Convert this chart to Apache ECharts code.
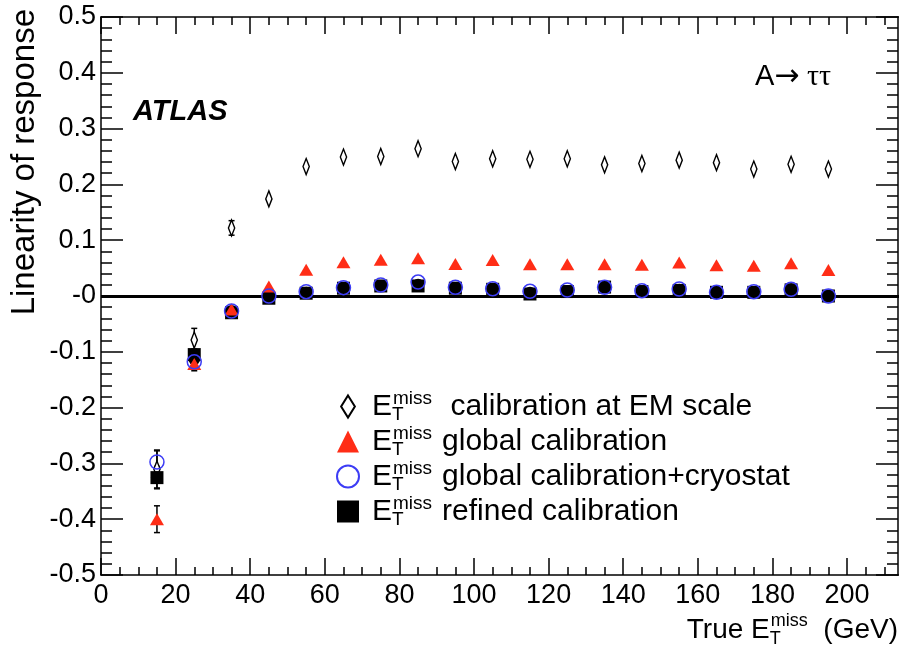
<!DOCTYPE html>
<html>
<head>
<meta charset="utf-8">
<script src="https://cdn.jsdelivr.net/npm/echarts@6/dist/echarts.min.js"></script>
<style>
  html, body { margin: 0; padding: 0; background: #fff; }
  #chart { width: 899px; height: 654px; }
</style>
</head>
<body>
<div id="chart"></div>
<script>
// true missing Et bin centres (GeV)
const trueMet = [15, 25, 35, 45, 55, 65, 75, 85, 95, 105, 115, 125, 135, 145, 155, 165, 175, 185, 195]

// linearity for each calibration
const emScale = [-0.31, -0.079, 0.122, 0.174, 0.232, 0.249, 0.25, 0.264, 0.241, 0.246, 0.245, 0.246, 0.235, 0.2375, 0.2435, 0.239, 0.2275, 0.236, 0.2275]
const globalCal = [-0.4, -0.122, -0.024, 0.017, 0.047, 0.0605, 0.065, 0.0676, 0.0574, 0.0646, 0.057, 0.057, 0.057, 0.056, 0.06, 0.055, 0.054, 0.0586, 0.0467]
const cryostat = [-0.2975, -0.118, -0.027, 0.0, 0.0077, 0.015, 0.0197, 0.025, 0.0156, 0.013, 0.0084, 0.0108, 0.0156, 0.0095, 0.0126, 0.0066, 0.0077, 0.012, 0.0]
const refined = [-0.3255, -0.105, -0.03, -0.004, 0.005, 0.014, 0.018, 0.018, 0.014, 0.012, 0.0036, 0.008, 0.016, 0.008, 0.01, 0.0066, 0.0066, 0.011, 0.0]
// filled black circles drawn under the open blue ones (not in legend)
const refinedDot = [-0.325, -0.113, -0.027, -0.002, 0.006, 0.014, 0.018, 0.02, 0.014, 0.013, 0.006, 0.009, 0.016, 0.008, 0.011, 0.006, 0.007, 0.012, 0.0]

// statistical errors (only the ones that stick out of the markers)
const emErr = [0.034, 0.021, 0.013, 0, 0, 0, 0, 0, 0, 0, 0, 0, 0, 0, 0, 0, 0, 0, 0]
const globalErr = [0.024, 0.012, 0, 0, 0, 0, 0, 0, 0, 0, 0, 0, 0, 0, 0, 0, 0, 0, 0]
const cryostatErr = [0.02, 0.012, 0, 0, 0, 0, 0, 0, 0, 0, 0, 0, 0, 0, 0, 0, 0, 0, 0]
const refinedErr = [0.02, 0.01, 0, 0, 0, 0, 0, 0, 0, 0, 0, 0, 0, 0, 0, 0, 0, 0, 0]

const yTicks = [-0.5, -0.4, -0.3, -0.2, -0.1, 0, 0.1, 0.2, 0.3, 0.4, 0.5]

const legendLabels = {
  em: ' calibration at EM scale',
  global: 'global calibration',
  cryo: 'global calibration+cryostat',
  refined: 'refined calibration'
}

const FONT = '"Liberation Sans", Arial, Helvetica, sans-serif'
const RED = '#ff2d16'
const BLUE = '#3c3cf5'
const DIAMOND = 'path://M5,0 L10,8 L5,16 L0,8 Z'

function pairs(values) {
  return trueMet.map((x, i) => [x, values[i]])
}

function errorData() {
  const out = []
  const sets = [[emScale, emErr], [globalCal, globalErr], [cryostat, cryostatErr], [refined, refinedErr]]
  sets.forEach(s => {
    trueMet.forEach((x, i) => {
      if (s[1][i] > 0) out.push([x, s[0][i], s[1][i]])
    })
  })
  return out
}

function renderErrorBar(params, api) {
  const x = api.value(0)
  const y = api.value(1)
  const e = api.value(2)
  const hi = api.coord([x, y + e])
  const lo = api.coord([x, y - e])
  const style = { stroke: '#000', lineWidth: 1.5 }
  return {
    type: 'group',
    children: [
      { type: 'line', shape: { x1: hi[0], y1: hi[1], x2: lo[0], y2: lo[1] }, style },
      { type: 'line', shape: { x1: hi[0] - 3, y1: hi[1], x2: hi[0] + 3, y2: hi[1] }, style },
      { type: 'line', shape: { x1: lo[0] - 3, y1: lo[1], x2: lo[0] + 3, y2: lo[1] }, style }
    ]
  }
}

const rich = {
  e: { fontFamily: FONT, fontSize: 30, lineHeight: 35, color: '#000', verticalAlign: 'middle', padding: [0, 0, 0, 8] },
  t: { fontFamily: FONT, fontSize: 19, lineHeight: 2, width: 1, color: '#000', verticalAlign: 'bottom' },
  m: { fontFamily: FONT, fontSize: 19, lineHeight: 18, color: '#000', verticalAlign: 'top' },
  l: { fontFamily: FONT, fontSize: 30, lineHeight: 35, color: '#000', verticalAlign: 'middle', padding: [0, 0, 0, 10] }
}

const axisLine = { show: true, onZero: false, lineStyle: { color: '#000', width: 1.5 } }
const tickStyle = { color: '#000', width: 1.5 }

const chart = echarts.init(document.getElementById('chart'), null, { renderer: 'canvas' })
chart.setOption({
  backgroundColor: '#fff',
  animation: false,
  grid: { left: 101, top: 17, width: 802, bottom: 79, containLabel: false, outerBoundsMode: 'none' },
  xAxis: [{
    type: 'value',
    min: 0,
    max: 215,
    interval: 20,
    position: 'bottom',
    axisLine,
    axisTick: { inside: true, length: 17, lineStyle: tickStyle },
    minorTick: { show: true, splitNumber: 4, length: 8, lineStyle: tickStyle },
    splitLine: { show: false },
    axisLabel: {
      color: '#000', fontFamily: FONT, fontSize: 27, margin: 7,
      formatter: v => (v % 20 === 0 ? String(v) : '')
    }
  }, {
    type: 'value',
    min: 0,
    max: 215,
    interval: 20,
    position: 'top',
    axisLine,
    axisTick: { inside: true, length: 17, lineStyle: tickStyle },
    minorTick: { show: true, splitNumber: 4, length: 8, lineStyle: tickStyle },
    splitLine: { show: false },
    axisLabel: { show: false }
  }],
  yAxis: [{
    type: 'value',
    min: yTicks[0],
    max: yTicks[yTicks.length - 1],
    interval: 0.1,
    position: 'left',
    axisLine,
    axisTick: { inside: true, length: 22, lineStyle: tickStyle },
    minorTick: { show: true, splitNumber: 5, length: 11, lineStyle: tickStyle },
    splitLine: { show: false },
    axisLabel: {
      color: '#000', fontFamily: FONT, fontSize: 27, margin: 5,
      formatter: v => {
        const r = Math.round(v * 10) / 10
        return r === 0 ? '-0' : r.toFixed(1)
      }
    }
  }, {
    type: 'value',
    min: yTicks[0],
    max: yTicks[yTicks.length - 1],
    interval: 0.1,
    position: 'right',
    offset: -5,
    axisLine,
    axisTick: { inside: true, length: 22, lineStyle: tickStyle },
    minorTick: { show: true, splitNumber: 5, length: 11, lineStyle: tickStyle },
    splitLine: { show: false },
    axisLabel: { show: false }
  }],
  legend: {
    data: ['em', 'global', 'cryo', 'refined'],
    orient: 'vertical',
    left: 336,
    top: 389,
    itemWidth: 22,
    itemHeight: 22,
    itemGap: 0,
    padding: 0,
    selectedMode: false,
    formatter: name => '{e|E}{t|T}{m|miss}{l|' + legendLabels[name] + '}',
    textStyle: { rich }
  },
  series: [{
    type: 'custom',
    name: 'errors',
    z: 1,
    silent: true,
    renderItem: renderErrorBar,
    data: errorData(),
    markLine: {
      silent: true,
      symbol: 'none',
      label: { show: false },
      lineStyle: { color: '#000', width: 3, type: 'solid' },
      data: [{ yAxis: 0 }]
    }
  }, {
    type: 'scatter',
    name: 'em',
    z: 2,
    symbol: DIAMOND,
    symbolKeepAspect: true,
    symbolSize: [10, 16],
    itemStyle: { color: '#fff', borderColor: '#000', borderWidth: 1.6, opacity: 1 },
    data: pairs(emScale)
  }, {
    type: 'scatter',
    name: 'refined',
    z: 3,
    symbol: 'rect',
    symbolSize: 13,
    itemStyle: { color: '#000', opacity: 1 },
    data: pairs(refined)
  }, {
    type: 'scatter',
    name: 'refinedDot',
    z: 4,
    symbol: 'circle',
    symbolSize: 12,
    itemStyle: { color: '#000', opacity: 1 },
    data: pairs(refinedDot)
  }, {
    type: 'scatter',
    name: 'global',
    z: 5,
    symbol: 'triangle',
    symbolSize: [14, 12],
    itemStyle: { color: RED, opacity: 1 },
    data: pairs(globalCal)
  }, {
    type: 'scatter',
    name: 'cryo',
    z: 6,
    symbol: 'circle',
    symbolSize: 14,
    itemStyle: { color: 'rgba(0,0,0,0)', borderColor: BLUE, borderWidth: 1.5, opacity: 1 },
    data: pairs(cryostat)
  }],
  graphic: [{
    type: 'text',
    x: 25,
    y: 9,
    rotation: Math.PI / 2,
    style: {
      text: 'Linearity of response',
      fontFamily: FONT, fontSize: 33, fill: '#000',
      align: 'right', verticalAlign: 'middle'
    }
  }, {
    type: 'text',
    x: 133,
    y: 112,
    style: {
      text: 'ATLAS',
      fontFamily: FONT, fontSize: 29, fontWeight: 'bold', fontStyle: 'italic', fill: '#000',
      align: 'left', verticalAlign: 'middle'
    }
  }, {
    type: 'text',
    x: 755,
    y: 77,
    style: {
      text: '{a|A}{r|→}{t| ττ}',
      align: 'left', verticalAlign: 'middle',
      rich: {
        a: { fontFamily: FONT, fontSize: 29, fill: '#000' },
        r: { fontFamily: '"DejaVu Sans", sans-serif', fontSize: 30, fill: '#000' },
        t: { fontFamily: '"Liberation Serif", serif', fontSize: 30, fill: '#000' }
      }
    }
  }, {
    type: 'text',
    right: 1,
    top: 612,
    style: {
      text: '{n|True }{e|E}{t|T}{m|miss}{n|  (GeV)}',
      rich: {
        n: { fontFamily: FONT, fontSize: 28, lineHeight: 36, fill: '#000', verticalAlign: 'middle' },
        e: { fontFamily: FONT, fontSize: 28, lineHeight: 36, fill: '#000', verticalAlign: 'middle' },
        t: { fontFamily: FONT, fontSize: 18, lineHeight: 2, width: 1, fill: '#000', verticalAlign: 'bottom' },
        m: { fontFamily: FONT, fontSize: 18, lineHeight: 16, fill: '#000', verticalAlign: 'top' }
      }
    }
  }]
})
</script>
</body>
</html>
